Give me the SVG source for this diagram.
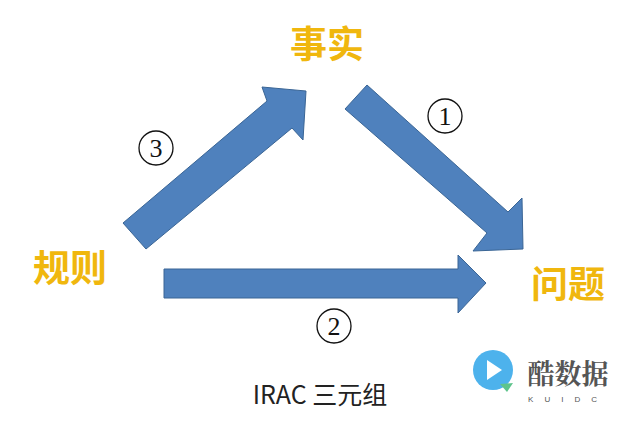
<svg xmlns="http://www.w3.org/2000/svg" width="640" height="422" viewBox="0 0 640 422">
<style>
.arr{fill:#4f81bd;stroke:#3a6595;stroke-width:1}
.lbl{font-family:"Noto Sans CJK SC",sans-serif;font-size:37px;font-weight:bold;fill:#f0b70e;text-anchor:middle}
.ring{fill:none;stroke:#111;stroke-width:1.3}
.num{font-family:"Liberation Serif",serif;font-size:26px;fill:#111;text-anchor:middle}
</style>
<rect width="640" height="422" fill="#fff"/>
<g id="connectors">
<polygon class="arr" points="123,223 267,101 262,87 306,91 303,140 292,128 146,249"/>
<polygon class="arr" points="367,85 508,212 522,198 523,249 473,251 487,233 345,109"/>
<polygon class="arr" points="164,269 458,269 458,255 486,283 458,313 458,298 164,298"/>
</g>
<g id="n-fact"><text class="lbl" x="327" y="58">事实</text></g>
<g id="n-rule"><text class="lbl" x="70" y="282">规则</text></g>
<g id="n-issue"><text class="lbl" x="568" y="298">问题</text></g>
<g id="labels">
<circle class="ring" cx="445" cy="116" r="17"/><text class="num" x="445" y="125">1</text>
<circle class="ring" cx="156" cy="148" r="17"/><text class="num" x="156" y="157">3</text>
<circle class="ring" cx="334" cy="326" r="17"/><text class="num" x="334" y="335">2</text>
<text x="320" y="404" font-family="Noto Sans CJK SC,sans-serif" font-size="25" fill="#222" text-anchor="middle">IRAC 三元组</text>
</g>
<g id="watermark">
<circle cx="493" cy="370" r="20" fill="#4db2ec"/>
<polygon points="487,360 502,370 487,380" fill="#fff"/>
<polygon points="500,384 513,383 507,392" fill="#5ec48c"/>
<text x="568" y="384" font-family="Noto Serif CJK SC,Noto Sans CJK SC,serif" font-weight="bold" font-size="27" fill="#555" text-anchor="middle">酷数据</text>
<text x="568" y="402" font-family="Liberation Sans,sans-serif" font-size="8" fill="#555" text-anchor="middle" letter-spacing="11">KUIDC</text>
</g>
</svg>
